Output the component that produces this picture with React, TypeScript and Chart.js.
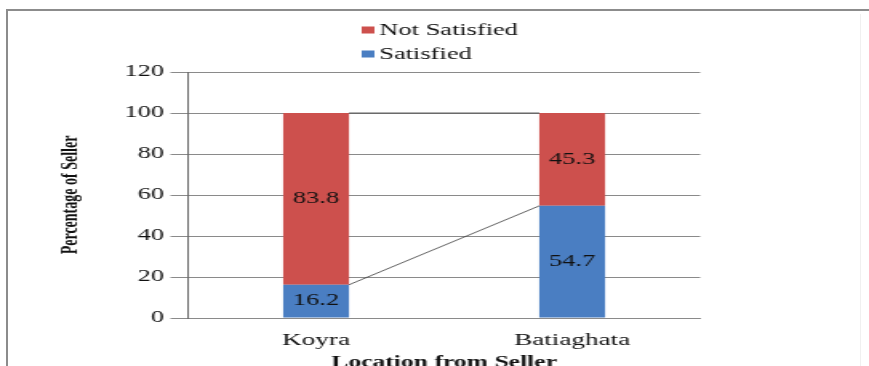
import React, { useEffect, useRef } from 'react';
import { Chart, registerables } from 'chart.js';

Chart.register(...registerables);

// ---- data ----
const categories = ['Koyra', 'Batiaghata'];
const satisfied = [16.2, 54.7];
const notSatisfied = [83.8, 45.3];
const seriesNames = ['Satisfied', 'Not Satisfied'];
const seriesColors = ['#4A7EC2', '#CD504D'];
const yAxisTitle = 'Percentage of Seller';
const xAxisTitle = 'Location from Seller';
const yMin = 0;
const yMax = 120;
const yStep = 20;

// ---- drawing constants ----
const W = 543;
const H = 380;
const SX = 869 / W;
const SERIF = '"Liberation Serif"';
const TEXT = '#111111';

Chart.defaults.font.family = SERIF;

const seriesLinesPlugin = {
  id: 'seriesLines',
  afterDatasetsDraw(chart: any) {
    const ctx = chart.ctx;
    ctx.save();
    ctx.strokeStyle = '#3a3a3a';
    ctx.lineWidth = 0.8;
    chart.data.datasets.forEach((_: any, di: number) => {
      const meta = chart.getDatasetMeta(di);
      for (let i = 0; i < meta.data.length - 1; i++) {
        const a = meta.data[i] as any;
        const b = meta.data[i + 1] as any;
        ctx.beginPath();
        ctx.moveTo(a.x + a.width / 2, a.y);
        ctx.lineTo(b.x - b.width / 2, b.y);
        ctx.stroke();
      }
    });
    ctx.restore();
  },
};

const valueLabelsPlugin = {
  id: 'valueLabels',
  afterDatasetsDraw(chart: any) {
    const ctx = chart.ctx;
    ctx.save();
    ctx.font = `16.5px ${SERIF}`;
    ctx.fillStyle = TEXT;
    ctx.textAlign = 'center';
    ctx.textBaseline = 'middle';
    chart.data.datasets.forEach((ds: any, di: number) => {
      const meta = chart.getDatasetMeta(di);
      meta.data.forEach((bar: any, i: number) => {
        const v = ds.data[i] as number;
        ctx.fillText(v.toFixed(1), bar.x, (bar.y + bar.base) / 2);
      });
    });
    ctx.restore();
  },
};

const customLegendPlugin = {
  id: 'customLegend',
  afterDraw(chart: any) {
    const ctx = chart.ctx;
    ctx.save();
    ctx.font = `16.5px ${SERIF}`;
    ctx.textBaseline = 'middle';
    ctx.textAlign = 'left';
    const ds = chart.data.datasets.slice().reverse();
    const rowY = [30, 54];
    ds.forEach((d: any, i: number) => {
      const y = rowY[i];
      ctx.fillStyle = d.backgroundColor;
      ctx.fillRect(226, y - 3.5, 8, 7);
      ctx.fillStyle = TEXT;
      ctx.fillText(d.label, 237, y + 1);
    });
    ctx.restore();
  },
};

export default function App() {
  const ref = useRef<HTMLCanvasElement>(null);

  useEffect(() => {
    const canvas = ref.current!;
    const chart = new Chart(canvas, {
      type: 'bar',
      data: {
        labels: categories,
        datasets: [
          {
            label: seriesNames[0],
            data: satisfied,
            backgroundColor: seriesColors[0],
            barPercentage: 0.257,
            categoryPercentage: 1,
          },
          {
            label: seriesNames[1],
            data: notSatisfied,
            backgroundColor: seriesColors[1],
            barPercentage: 0.257,
            categoryPercentage: 1,
          },
        ],
      },
      options: {
        responsive: false,
        maintainAspectRatio: false,
        animation: false,
        events: [],
        layout: {
          padding: { left: 36, top: 72, right: W - 437.5, bottom: 0 },
        },
        plugins: {
          legend: { display: false },
          tooltip: { enabled: false },
          title: { display: false },
        },
        scales: {
          x: {
            stacked: true,
            offset: true,
            grid: { display: false, drawTicks: false, tickLength: 0 },
            border: { display: true, color: '#8a8a8a', width: 1 },
            ticks: {
              font: { family: SERIF, size: 17 },
              color: TEXT,
              padding: 12,
              maxRotation: 0,
              autoSkip: false,
            },
            title: {
              display: true,
              text: xAxisTitle,
              font: { family: SERIF, size: 16, weight: 'bold' },
              color: '#111',
              padding: { top: 0, bottom: 8 },
            },
            afterFit(s: any) {
              s.height = H - 318;
            },
          },
          y: {
            stacked: true,
            min: yMin,
            max: yMax,
            ticks: {
              stepSize: yStep,
              font: { family: SERIF, size: 16.5 },
              color: TEXT,
              padding: 4,
            },
            grid: { color: '#8a8a8a', lineWidth: 1, tickLength: 11, drawTicks: true },
            border: { display: true, color: '#6a6a6a', width: 1 },
            title: {
              display: true,
              text: yAxisTitle,
              font: { family: SERIF, size: 14, weight: 'bold' },
              color: '#111',
              padding: { top: 0, bottom: 0 },
            },
            afterFit(s: any) {
              s.width = 81.5;
            },
          },
        },
      },
      plugins: [seriesLinesPlugin, valueLabelsPlugin, customLegendPlugin],
    } as any);
    return () => chart.destroy();
  }, []);

  return (
    <div
      style={{
        position: 'fixed',
        left: 0,
        top: 0,
        width: 869,
        height: 366,
        overflow: 'hidden',
        background: '#fff',
      }}
    >
      <div
        style={{
          position: 'absolute',
          left: 6,
          top: 9,
          width: 880,
          height: 400,
          borderLeft: '2px solid #8c8c8c',
          borderTop: '2px solid #8c8c8c',
          boxSizing: 'border-box',
        }}
      />
      <div
        style={{
          position: 'absolute',
          left: 860,
          top: 14,
          width: 1,
          height: 360,
          background: '#f0f0f0',
        }}
      />
      <div
        style={{
          position: 'absolute',
          left: 0,
          top: 0,
          width: W,
          height: H,
          transform: `scaleX(${SX})`,
          transformOrigin: '0 0',
        }}
      >
        <canvas ref={ref} width={W} height={H} style={{ display: 'block', width: W, height: H }} />
      </div>
    </div>
  );
}
